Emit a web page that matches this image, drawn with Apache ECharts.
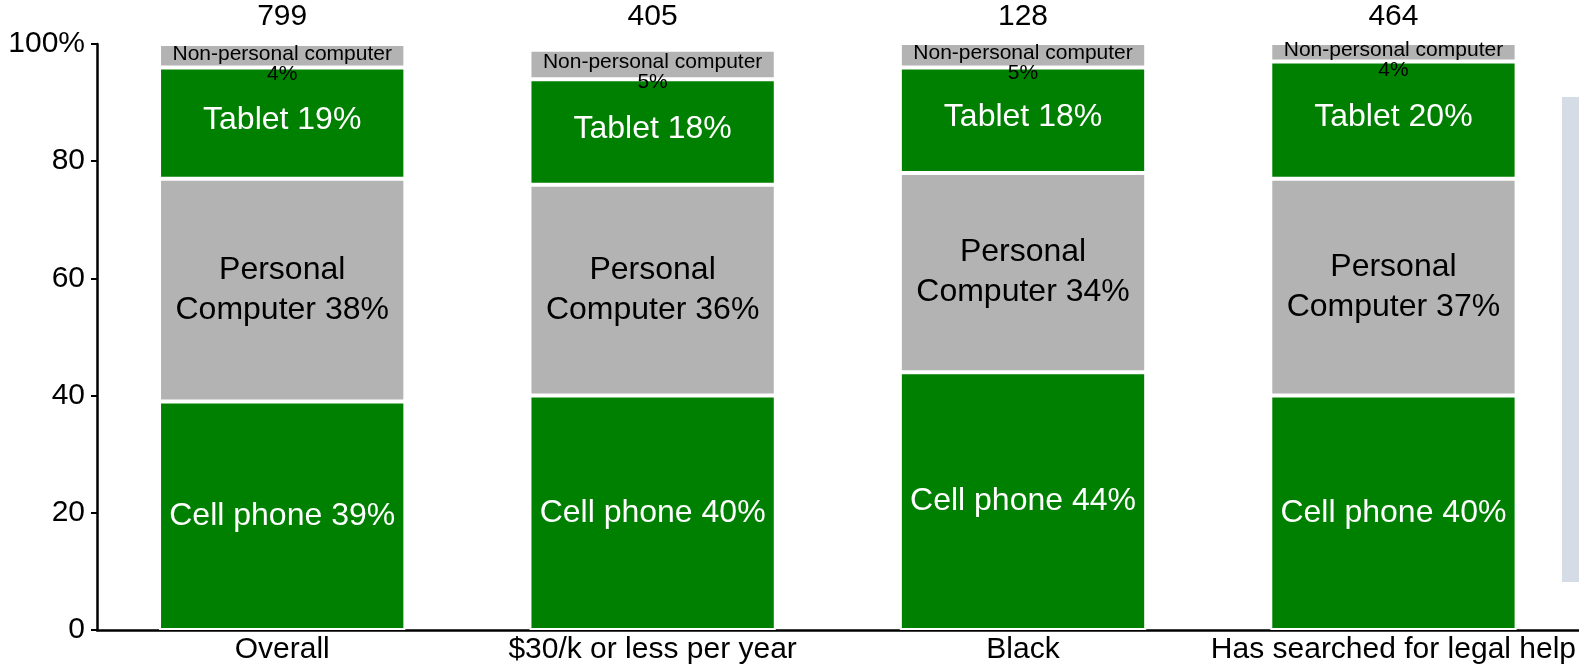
<!DOCTYPE html>
<html>
<head>
<meta charset="utf-8">
<title>Device used, by group</title>
<script src="https://cdn.jsdelivr.net/npm/echarts@6/dist/echarts.min.js"></script>
<style>
  html, body { margin: 0; padding: 0; background: #fff; }
  #chart { width: 1579px; height: 670px; }
</style>
</head>
<body>
<div id="chart"></div>
<script>
// Groups along the x axis and the respondent count shown above each bar
const categories = ['Overall', '$30/k or less per year', 'Black', 'Has searched for legal help'];
const counts = ['799', '405', '128', '464'];

// Share of respondents (%) by device, stacked bottom to top
const cellPhone = [39, 40, 44, 40];
const personalComputer = [38, 36, 34, 37];
const tablet = [19, 18, 18, 20];
const nonPersonalComputer = [4, 5, 5, 4];

const yTicks = [0, 20, 40, 60, 80, 100];

const FONT = '"Liberation Sans", Arial, Helvetica, sans-serif';
const GREEN = '#008000';
const GREY = '#b3b3b3';

function segment(name, data, color, labelColor, fmt, extraLabel) {
  return {
    name: name,
    type: 'bar',
    stack: 'device',
    data: data,
    barWidth: '66.5%',
    itemStyle: { color: color, borderColor: '#ffffff', borderWidth: 2 },
    label: Object.assign({
      show: true,
      position: 'inside',
      color: labelColor,
      fontFamily: FONT,
      fontSize: 32,
      lineHeight: 40,
      formatter: function (p) { return fmt(p.value); }
    }, extraLabel || {}),
    emphasis: { disabled: true }
  };
}

const chart = echarts.init(document.getElementById('chart'), null, { renderer: 'canvas' });

chart.setOption({
  animation: false,
  backgroundColor: '#ffffff',
  textStyle: { fontFamily: FONT },
  grid: { left: 97, right: 0, top: 44, bottom: 40, containLabel: false },
  xAxis: [
    {
      type: 'category',
      data: categories,
      axisLine: { lineStyle: { color: '#000', width: 2.5 } },
      axisTick: { show: false },
      axisLabel: { color: '#000', fontFamily: FONT, fontSize: 30, margin: 5, interval: 0 }
    },
    {
      type: 'category',
      position: 'top',
      data: counts,
      axisLine: { show: false },
      axisTick: { show: false },
      axisLabel: { color: '#000', fontFamily: FONT, fontSize: 30, margin: 12, interval: 0 }
    }
  ],
  yAxis: {
    type: 'value',
    min: yTicks[0],
    max: yTicks[yTicks.length - 1],
    interval: yTicks[1] - yTicks[0],
    splitLine: { show: false },
    axisLine: { show: true, lineStyle: { color: '#000', width: 2.5 } },
    axisTick: { show: true, length: 6, lineStyle: { color: '#000', width: 2 } },
    axisLabel: {
      color: '#000',
      fontFamily: FONT,
      fontSize: 30,
      margin: 12,
      formatter: function (v) { return v === 100 ? v + '%' : String(v); }
    }
  },
  series: [
    segment('Cell phone', cellPhone, GREEN, '#fff', function (v) { return 'Cell phone ' + v + '%'; }),
    segment('Personal computer', personalComputer, GREY, '#000', function (v) { return 'Personal\nComputer ' + v + '%'; }),
    segment('Tablet', tablet, GREEN, '#fff', function (v) { return 'Tablet ' + v + '%'; }, { offset: [0, -3] }),
    segment('Non-personal computer', nonPersonalComputer, GREY, '#000',
      function (v) { return 'Non-personal computer\n' + v + '%'; },
      { fontSize: 21, lineHeight: 20, offset: [0, 8] })
  ],
  graphic: [
    {
      type: 'rect',
      left: 1562,
      top: 97,
      silent: true,
      shape: { width: 17, height: 485 },
      style: { fill: '#d5dce6' }
    }
  ]
});
</script>
</body>
</html>
